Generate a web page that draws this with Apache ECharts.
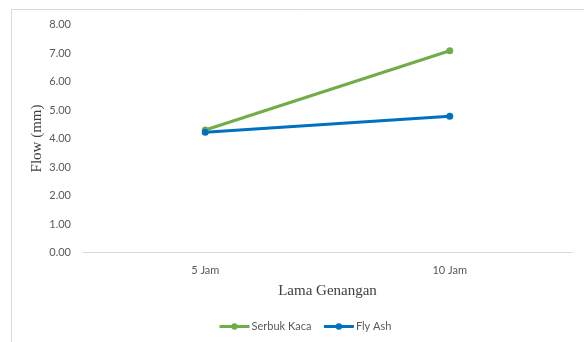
<!DOCTYPE html>
<html>
<head>
<meta charset="utf-8">
<script src="https://cdn.jsdelivr.net/npm/echarts@6/dist/echarts.min.js"></script>
<style>
  html, body { margin: 0; padding: 0; background: #fff; }
  #chart { width: 584px; height: 342px; }
</style>
</head>
<body>
<div id="chart"></div>
<script>
// Soaking time categories and measured flow (mm)
const categories = ['5 Jam', '10 Jam'];
const serbukKaca = [4.30, 7.08];
const flyAsh = [4.22, 4.78];
const yTicks = { min: 0, max: 8, interval: 1 };

const chart = echarts.init(document.getElementById('chart'), null, { renderer: 'canvas' });

const labelFont = 'Lato, "Open Sans", sans-serif';
const titleFont = '"Liberation Serif", "DejaVu Serif", serif';

chart.setOption({
  animation: false,
  backgroundColor: '#ffffff',
  graphic: [
    { type: 'line', shape: { x1: 11, y1: 9.5, x2: 584, y2: 9.5 }, style: { stroke: '#d9d9d9', lineWidth: 1 } },
    { type: 'line', shape: { x1: 11.5, y1: 9, x2: 11.5, y2: 342 }, style: { stroke: '#d9d9d9', lineWidth: 1 } }
  ],
  grid: { left: 83, right: 12, top: 24.5, bottom: 89.5 },
  legend: {
    left: 213, top: 316,
    itemWidth: 30, itemHeight: 8, itemGap: 11,
    lineStyle: { width: 3 },
    textStyle: { fontFamily: labelFont, fontSize: 11, color: '#595959', padding: [0, 0, 0, -3] },
    data: ['Serbuk Kaca', 'Fly Ash']
  },
  xAxis: {
    type: 'category',
    data: categories,
    boundaryGap: true,
    name: 'Lama Genangan',
    nameLocation: 'middle',
    nameGap: 31,
    nameMoveOverlap: false,
    nameTextStyle: { fontFamily: titleFont, fontSize: 15, color: '#404040' },
    axisLine: { lineStyle: { color: '#d9d9d9', width: 1 } },
    axisTick: { show: false },
    axisLabel: { fontFamily: labelFont, fontSize: 11, color: '#595959', margin: 12 }
  },
  yAxis: {
    type: 'value',
    min: yTicks.min, max: yTicks.max, interval: yTicks.interval,
    name: 'Flow (mm)',
    nameLocation: 'middle',
    nameGap: 38,
    nameMoveOverlap: false,
    nameRotate: 90,
    nameTextStyle: { fontFamily: titleFont, fontSize: 15, color: '#404040' },
    axisLine: { show: false },
    axisTick: { show: false },
    splitLine: { show: false },
    axisLabel: { fontFamily: labelFont, fontSize: 11, color: '#595959', margin: 12, formatter: v => v.toFixed(2) }
  },
  series: [
    {
      name: 'Serbuk Kaca', type: 'line', data: serbukKaca,
      symbol: 'circle', symbolSize: 7,
      lineStyle: { color: '#70AD47', width: 3 },
      itemStyle: { color: '#70AD47' }
    },
    {
      name: 'Fly Ash', type: 'line', data: flyAsh,
      symbol: 'circle', symbolSize: 7,
      lineStyle: { color: '#0070C0', width: 3 },
      itemStyle: { color: '#0070C0' }
    }
  ]
});
</script>
</body>
</html>
